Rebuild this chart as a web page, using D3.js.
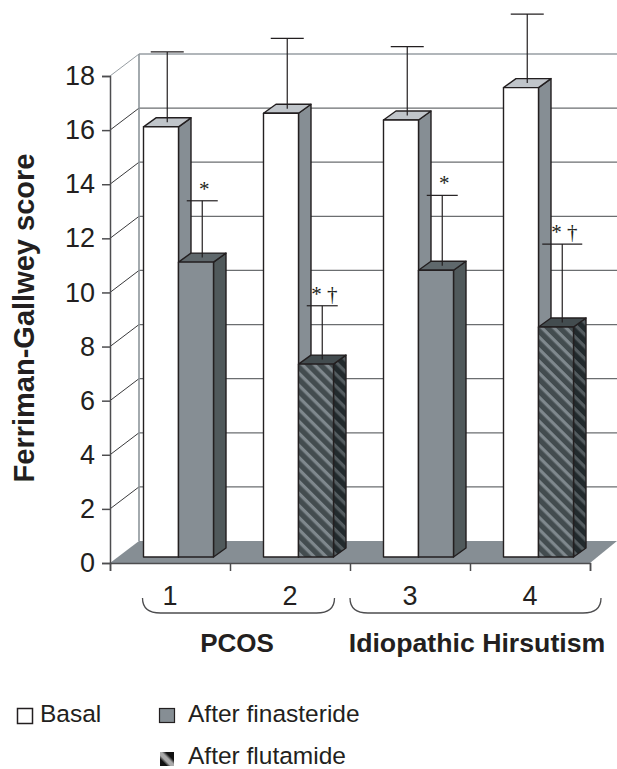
<!DOCTYPE html>
<html>
<head>
<meta charset="utf-8">
<script src="https://cdn.jsdelivr.net/npm/d3@7"></script>
<style>
  html, body { margin: 0; padding: 0; background: #fff; }
  svg { display: block; }
  text { font-family: "Liberation Sans", Arial, sans-serif; fill: #231f20; }
</style>
</head>
<body>
<div id="chart"></div>
<script>
var width = 617,
    height = 769;

// values
var categories = ["1", "2", "3", "4"];
var basal = [15.9, 16.4, 16.15, 17.35];
var treated = [10.9, 7.13, 10.6, 8.5];
var treatedKind = ["finasteride", "flutamide", "finasteride", "flutamide"];
var basalErrTop = [18.5, 19.0, 18.7, 19.9];
var treatedErrTop = [13.0, 9.12, 13.2, 11.4];
var treatedMarks = ["*", "* †", "*", "* †"];
var yTicks = [0, 2, 4, 6, 8, 10, 12, 14, 16, 18];
var groups = [
    { name: "PCOS", from: 0, to: 1 },
    { name: "Idiopathic Hirsutism", from: 2, to: 3 }
];

var svg = d3.select("#chart")
    .append("svg")
    .attr("width", width)
    .attr("height", height);

var defs = svg.append("defs");

function hatch(id, bg, stripe) {
    var p = defs.append("pattern")
        .attr("id", id)
        .attr("patternUnits", "userSpaceOnUse")
        .attr("width", 8.5)
        .attr("height", 8.5)
        .attr("patternTransform", "rotate(45)");
    p.append("rect").attr("width", 8.5).attr("height", 8.5).attr("fill", bg);
    p.append("rect").attr("width", 8.5).attr("height", 3.2).attr("fill", stripe);
}
hatch("flutFront", "#434c4f", "#7f888d");
hatch("flutSide", "#222a2d", "#545c60");

var x = d3.scaleBand().domain(categories).range([110, 590]);
var y = d3.scaleLinear().domain([0, 18]).range([563, 76]);
var xEdge = d3.scaleLinear().domain([0, 4]).range([110, 590]);

// bars inside one category
var xBar = d3.scaleBand().domain(["basal", "treated"]).range([33.5, 103.5]);

// 3d offsets
var wallDx = 29, wallDy = -22;
var barDx = 12.5, barDy = -9;
var planeDy = -6;
var yBar = function(v) { return y(v) + planeDy; };

var colors = {
    basal: { front: "#ffffff", top: "#c0c5ca", side: "#868e94" },
    finasteride: { front: "#868e94", top: "#5f686c", side: "#50595b" },
    flutamide: { front: "url(#flutFront)", top: "#434c4f", side: "url(#flutSide)" }
};

// floor
svg.append("path")
    .attr("d", d3.line()([[110, y(0)], [110 + wallDx, y(0) + wallDy], [617, y(0) + wallDy], [590, y(0)]]) + "Z")
    .attr("fill", "#868e94");

// back wall grid
svg.append("g")
    .selectAll("line")
    .data(yTicks.slice(1))
    .enter()
    .append("line")
    .attr("x1", 110 + wallDx)
    .attr("x2", 617)
    .attr("y1", function(d) { return y(d) + wallDy; })
    .attr("y2", function(d) { return y(d) + wallDy; })
    .attr("stroke", function(d) { return d === 18 ? "#979ea3" : "#6b6e70"; })
    .attr("stroke-width", 1.3);

// side wall
svg.append("g")
    .selectAll("line")
    .data(yTicks.slice(1))
    .enter()
    .append("line")
    .attr("x1", 110)
    .attr("x2", 110 + wallDx)
    .attr("y1", function(d) { return y(d); })
    .attr("y2", function(d) { return y(d) + wallDy; })
    .attr("stroke", function(d) { return d === 18 ? "#979ea3" : "#3a3a3c"; })
    .attr("stroke-width", 1);

svg.append("line")
    .attr("x1", 110 + wallDx)
    .attr("x2", 110 + wallDx)
    .attr("y1", y(18) + wallDy)
    .attr("y2", y(0) + wallDy)
    .attr("stroke", "#8d959a")
    .attr("stroke-width", 1.6);

// axes
var yAxis = svg.append("g")
    .attr("transform", "translate(110,0)")
    .call(d3.axisLeft(y).tickValues(yTicks).tickSize(8).tickPadding(7));
var xAxis = svg.append("g")
    .attr("transform", "translate(0," + y(0) + ")")
    .call(d3.axisBottom(xEdge).tickValues([0, 1, 2, 3, 4]).tickSize(8).tickFormat(""));

yAxis.selectAll("text").style("font-size", "27px");
yAxis.selectAll("path, line").attr("stroke", "#4d4d4f").attr("stroke-width", 1.5);
xAxis.selectAll("path, line").attr("stroke", "#4d4d4f").attr("stroke-width", 1.5);

// one bar as a box with three faces
function drawBox(g, x0, w, v, c) {
    var t = yBar(v), b = yBar(0);
    var box = g.append("g")
        .attr("stroke", "#231f20")
        .attr("stroke-width", 1.4)
        .attr("stroke-linejoin", "round");
    box.append("path")
        .attr("d", d3.line()([[x0 + w, t], [x0 + w + barDx, t + barDy], [x0 + w + barDx, b + barDy], [x0 + w, b]]) + "Z")
        .attr("fill", c.side);
    box.append("path")
        .attr("d", d3.line()([[x0, t], [x0 + barDx, t + barDy], [x0 + w + barDx, t + barDy], [x0 + w, t]]) + "Z")
        .attr("fill", c.top);
    box.append("rect")
        .attr("x", x0)
        .attr("y", t)
        .attr("width", w)
        .attr("height", b - t)
        .attr("fill", c.front);
}

function drawError(g, xc, v, top, capW) {
    var err = g.append("g").attr("stroke", "#231f20").attr("stroke-width", 1.2);
    err.append("line")
        .attr("x1", xc).attr("x2", xc)
        .attr("y1", yBar(v) + barDy / 2)
        .attr("y2", yBar(top) + barDy / 2);
    err.append("line")
        .attr("x1", xc - capW / 2).attr("x2", xc + capW / 2)
        .attr("y1", yBar(top) + barDy / 2)
        .attr("y2", yBar(top) + barDy / 2);
}

categories.forEach(function(cat, i) {
    var g = svg.append("g");
    var x0 = x(cat);
    var w = xBar.bandwidth();
    var xb = x0 + xBar("basal");
    var xt = x0 + xBar("treated");

    drawBox(g, xb, w, basal[i], colors.basal);
    drawError(g, xb + w / 2 + barDx / 2, basal[i], basalErrTop[i], 33);

    drawBox(g, xt, w, treated[i], colors[treatedKind[i]]);
    drawError(g, xt + w / 2 + barDx / 2, treated[i], treatedErrTop[i], i === 3 ? 40 : 31);

    g.append("text")
        .attr("x", xt + w / 2 + barDx / 2 + 2)
        .attr("y", yBar(treatedErrTop[i]) + barDy / 2 - 5)
        .attr("text-anchor", "middle")
        .style("font-family", "'Liberation Serif', serif")
        .style("font-size", "21px")
        .text(treatedMarks[i]);

    svg.append("text")
        .attr("x", x0 + x.bandwidth() / 2)
        .attr("y", 605)
        .attr("text-anchor", "middle")
        .style("font-size", "27px")
        .text(cat);
});

// group braces
groups.forEach(function(d) {
    var x1 = x(categories[d.from]) + (d.from === 0 ? 32.5 : 0),
        x2 = x(categories[d.to]) + (d.from === 0 ? 104.5 : 131);
    svg.append("path")
        .attr("d", "M" + x1 + ",598 Q" + x1 + ",613 " + (x1 + 18) + ",613 L" + (x2 - 18) + ",613 Q" + x2 + ",613 " + x2 + ",598")
        .attr("fill", "none")
        .attr("stroke", "#4d4d4f")
        .attr("stroke-width", 1.3);
});

svg.append("text")
    .attr("x", 237)
    .attr("y", 652)
    .attr("text-anchor", "middle")
    .style("font-size", "26px")
    .style("font-weight", "bold")
    .text(groups[0].name);
svg.append("text")
    .attr("x", 477)
    .attr("y", 652)
    .attr("text-anchor", "middle")
    .style("font-size", "26.7px")
    .style("font-weight", "bold")
    .text(groups[1].name);

svg.append("text")
    .attr("transform", "translate(33.5,318) rotate(-90)")
    .attr("text-anchor", "middle")
    .style("font-size", "29px")
    .style("font-weight", "bold")
    .text("Ferriman-Gallwey score");

// legend
defs.append("linearGradient")
    .attr("id", "flutKey")
    .attr("x1", 1).attr("y1", 0).attr("x2", 0).attr("y2", 1)
    .selectAll("stop")
    .data([[0, "#111"], [0.3, "#111"], [0.45, "#aaa"], [0.6, "#aaa"], [0.75, "#111"], [1, "#111"]])
    .enter()
    .append("stop")
    .attr("offset", function(d) { return d[0]; })
    .attr("stop-color", function(d) { return d[1]; });

svg.append("rect").attr("x", 17.5).attr("y", 708.5).attr("width", 15).attr("height", 15)
    .attr("fill", "#fff").attr("stroke", "#231f20").attr("stroke-width", 1.5);
svg.append("rect").attr("x", 159.5).attr("y", 708.5).attr("width", 15).attr("height", 14)
    .attr("fill", "#868e94").attr("stroke", "#231f20").attr("stroke-width", 1.2);
svg.append("rect").attr("x", 160).attr("y", 752).attr("width", 14).attr("height", 14)
    .attr("fill", "url(#flutKey)");

svg.append("text").attr("x", 40).attr("y", 722).style("font-size", "24.5px").text("Basal");
svg.append("text").attr("x", 188).attr("y", 722).style("font-size", "24.5px").text("After finasteride");
svg.append("text").attr("x", 188).attr("y", 763.5).style("font-size", "24.5px").text("After flutamide");
</script>
</body>
</html>
